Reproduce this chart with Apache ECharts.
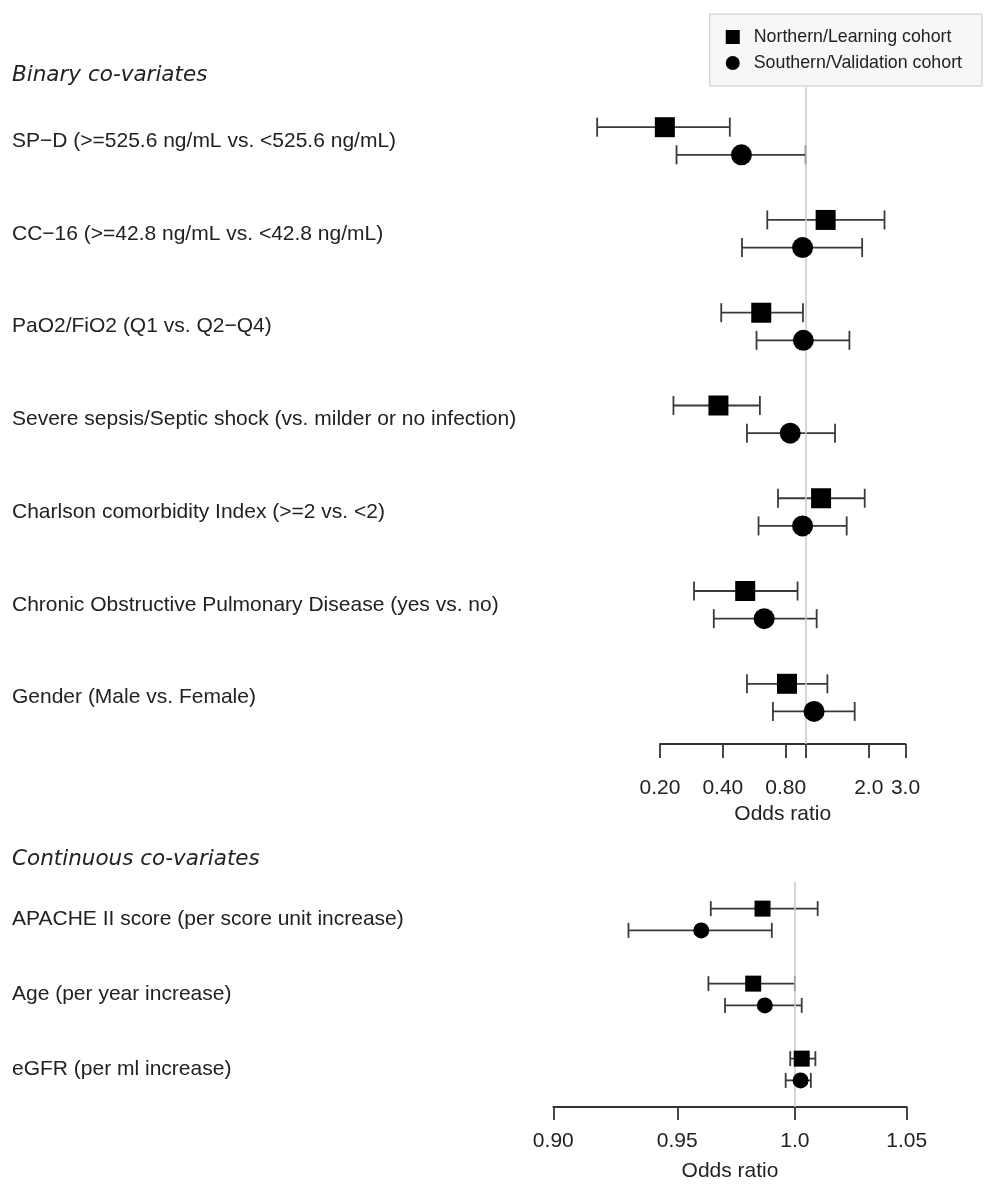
<!DOCTYPE html>
<html><head><meta charset="utf-8">
<script src="https://cdn.jsdelivr.net/npm/echarts@6/dist/echarts.min.js"></script>
<style>html,body{margin:0;padding:0;background:#fff}#chart{width:985px;height:1188px}</style>
</head><body><div id="chart"></div>
<script>
// ---- data ----
const binaryLabels = [
  'SP\u2212D (>=525.6 ng/mL vs. <525.6 ng/mL)',
  'CC\u221216 (>=42.8 ng/mL vs. <42.8 ng/mL)',
  'PaO2/FiO2 (Q1 vs. Q2\u2212Q4)',
  'Severe sepsis/Septic shock (vs. milder or no infection)',
  'Charlson comorbidity Index (>=2 vs. <2)',
  'Chronic Obstructive Pulmonary Disease (yes vs. no)',
  'Gender (Male vs. Female)'
];
const learnBinOR = [0.211, 1.243, 0.611, 0.381, 1.182, 0.512, 0.812];
const learnBinLo = [0.100, 0.653, 0.393, 0.232, 0.735, 0.291, 0.522];
const learnBinHi = [0.432, 2.380, 0.968, 0.602, 1.913, 0.912, 1.267];
const valBinOR   = [0.491, 0.964, 0.972, 0.841, 0.964, 0.631, 1.094];
const valBinLo   = [0.240, 0.494, 0.580, 0.522, 0.593, 0.362, 0.695];
const valBinHi   = [0.997, 1.860, 1.616, 1.379, 1.568, 1.126, 1.713];

const contLabels = [
  'APACHE II score (per score unit increase)',
  'Age (per year increase)',
  'eGFR (per ml increase)'
];
const learnContOR = [0.986, 0.982, 1.003];
const learnContLo = [0.964, 0.963, 0.998];
const learnContHi = [1.010, 1.000, 1.009];
const valContOR   = [0.960, 0.987, 1.0025];
const valContLo   = [0.930, 0.970, 0.996];
const valContHi   = [0.990, 1.003, 1.007];

const binaryTicks = [0.2, 0.4, 0.8, 1, 2, 3];
const binaryTickLabels = ['0.20', '0.40', '0.80', '', '2.0', '3.0'];
const contTicks = [0.9, 0.95, 1.0, 1.05];
const contTickLabels = ['0.90', '0.95', '1.0', '1.05'];

const seriesNames = ['Northern/Learning cohort', 'Southern/Validation cohort'];
const headers = ['Binary co-variates', 'Continuous co-variates'];

// ---- building ----
const FONT = 'Liberation Sans, Arial, sans-serif';
const TXT = '#222';
const FS = 21;

function errData(lo, hi, off) { return lo.map((l, i) => [l, hi[i], i + off]); }
function ptData(or, off) { return or.map((v, i) => [v, i + off]); }

function errRender(capHalf) {
  return function (params, api) {
    const y = api.value(2);
    const a = api.coord([api.value(0), y]);
    const b = api.coord([api.value(1), y]);
    const st = { stroke: '#3a3a3a', lineWidth: 1.8 };
    return {
      type: 'group',
      children: [
        { type: 'line', shape: { x1: a[0], y1: a[1], x2: b[0], y2: b[1] }, style: st },
        { type: 'line', shape: { x1: a[0], y1: a[1] - capHalf, x2: a[0], y2: a[1] + capHalf }, style: st },
        { type: 'line', shape: { x1: b[0], y1: b[1] - capHalf, x2: b[0], y2: b[1] + capHalf }, style: st }
      ]
    };
  };
}

function labelFmt(ticks, labels) {
  return function (v) {
    for (let i = 0; i < ticks.length; i++) if (Math.abs(ticks[i] - v) < 1e-9) return labels[i];
    return '';
  };
}

function xAxisCfg(grid, min, max, ticks, labels, tickLen, margin, nameGap) {
  return {
    gridIndex: grid, type: 'log', logBase: 10, min: min, max: max, position: 'bottom',
    axisLine: { show: true, onZero: false, lineStyle: { color: '#333', width: 1.8 } },
    axisTick: { show: true, length: tickLen, lineStyle: { color: '#333', width: 1.8 }, customValues: ticks },
    axisLabel: { customValues: ticks, formatter: labelFmt(ticks, labels), fontFamily: FONT, fontSize: FS, color: TXT, margin: margin },
    splitLine: { show: false },
    name: 'Odds ratio', nameLocation: 'middle', nameGap: nameGap,
    nameTextStyle: { fontFamily: FONT, fontSize: FS, color: TXT }
  };
}

function yAxisCfg(grid, min, max, labels, margin) {
  return {
    gridIndex: grid, type: 'value', inverse: true, min: min, max: max,
    axisLine: { show: false }, axisTick: { show: false }, splitLine: { show: false },
    axisLabel: {
      customValues: labels.map((_, i) => i),
      formatter: v => labels[Math.round(v)] || '',
      align: 'left', margin: margin, fontFamily: FONT, fontSize: FS, color: TXT
    }
  };
}

const refLine = {
  silent: true, symbol: 'none', label: { show: false },
  lineStyle: { color: '#c8c8c8', width: 1.5, type: 'solid' },
  data: [{ xAxis: 1 }]
};

const OFF1 = 0.149, OFF2 = 0.145;

const option = {
  backgroundColor: '#fff',
  animation: false,
  graphic: [
    { type: 'text', left: 12, top: 64, style: { text: headers[0], font: 'italic 21.5px "DejaVu Sans"', fill: TXT } },
    { type: 'text', left: 12, top: 848, style: { text: headers[1], font: 'italic 21.5px "DejaVu Sans"', fill: TXT } }
  ],
  legend: {
    orient: 'vertical',
    right: 3, top: 14, z: 20,
    padding: [14, 20, 14, 16],
    itemGap: 8,
    itemWidth: 14, itemHeight: 14,
    backgroundColor: '#f7f7f7',
    borderColor: '#c8c8c8', borderWidth: 1,
    textStyle: { fontFamily: FONT, fontSize: 17.8, color: TXT, padding: [0, 0, 0, 9] },
    data: [{ name: seriesNames[0], icon: 'rect' }, { name: seriesNames[1], icon: 'circle' }]
  },
  grid: [
    { left: 660, right: 79.5, top: 87.2, height: 656.8 },
    { left: 553.3, right: 78.3, top: 882, height: 225 }
  ],
  xAxis: [
    xAxisCfg(0, 0.2, 3, binaryTicks, binaryTickLabels, 14, 34, 60),
    xAxisCfg(1, 0.9, 1.05, contTicks, contTickLabels, 13, 24, 54)
  ],
  yAxis: [
    yAxisCfg(0, -0.58, 6.5, binaryLabels, 648),
    yAxisCfg(1, -0.5, 2.5, contLabels, 541.3)
  ],
  series: [
    {
      type: 'custom', xAxisIndex: 0, yAxisIndex: 0, renderItem: errRender(9.5), clip: false,
      encode: { x: [0, 1], y: 2 }, data: errData(learnBinLo, learnBinHi, -OFF1), z: 2, silent: true,
      markLine: refLine
    },
    {
      type: 'custom', xAxisIndex: 0, yAxisIndex: 0, renderItem: errRender(9.5), clip: false,
      encode: { x: [0, 1], y: 2 }, data: errData(valBinLo, valBinHi, OFF1), z: 2, silent: true
    },
    {
      type: 'custom', xAxisIndex: 1, yAxisIndex: 1, renderItem: errRender(7.5), clip: false,
      encode: { x: [0, 1], y: 2 }, data: errData(learnContLo, learnContHi, -OFF2), z: 2, silent: true,
      markLine: refLine
    },
    {
      type: 'custom', xAxisIndex: 1, yAxisIndex: 1, renderItem: errRender(7.5), clip: false,
      encode: { x: [0, 1], y: 2 }, data: errData(valContLo, valContHi, OFF2), z: 2, silent: true
    },
    {
      name: seriesNames[0], type: 'scatter', xAxisIndex: 0, yAxisIndex: 0, symbol: 'rect', symbolSize: 20,
      itemStyle: { color: '#000', opacity: 1 }, data: ptData(learnBinOR, -OFF1), z: 5, silent: true
    },
    {
      name: seriesNames[1], type: 'scatter', xAxisIndex: 0, yAxisIndex: 0, symbol: 'circle', symbolSize: 21,
      itemStyle: { color: '#000', opacity: 1 }, data: ptData(valBinOR, OFF1), z: 5, silent: true
    },
    {
      name: seriesNames[0], type: 'scatter', xAxisIndex: 1, yAxisIndex: 1, symbol: 'rect', symbolSize: 16,
      itemStyle: { color: '#000', opacity: 1 }, data: ptData(learnContOR, -OFF2), z: 5, silent: true
    },
    {
      name: seriesNames[1], type: 'scatter', xAxisIndex: 1, yAxisIndex: 1, symbol: 'circle', symbolSize: 16,
      itemStyle: { color: '#000', opacity: 1 }, data: ptData(valContOR, OFF2), z: 5, silent: true
    }
  ]
};

const chart = echarts.init(document.getElementById('chart'));
chart.setOption(option);
</script>
</body></html>
